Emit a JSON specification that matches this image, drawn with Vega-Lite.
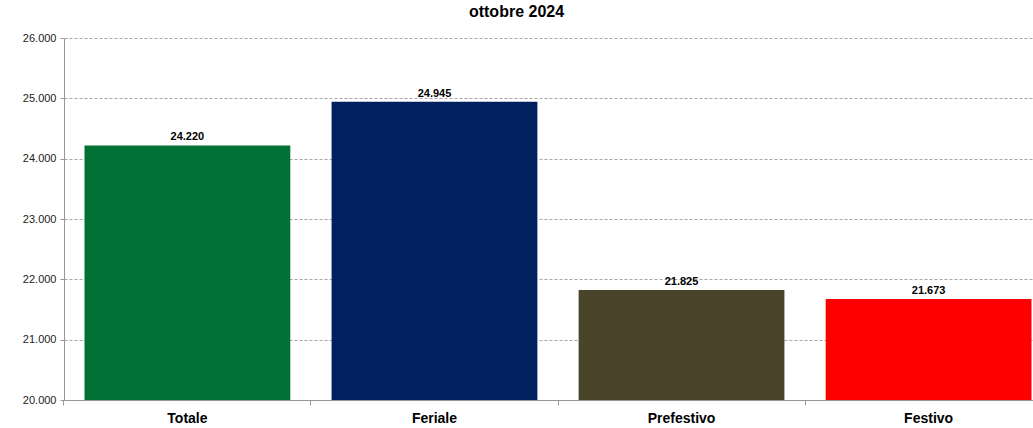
{
  "$schema": "https://vega.github.io/schema/vega-lite/v6.json",
  "autosize": {"type": "none"},
  "width": 969,
  "height": 362,
  "padding": {"left": 64, "top": 38, "right": 0, "bottom": 28},
  "background": "white",
  "config": {
    "locale": {"number": {"decimal": ",", "thousands": ".", "grouping": [3], "currency": ["€", ""]}},
    "view": {"stroke": null},
    "font": "Liberation Sans"
  },
  "title": {
    "text": "ottobre 2024",
    "fontSize": 16,
    "fontWeight": "bold",
    "font": "Liberation Sans",
    "color": "#000000",
    "anchor": "middle",
    "dx": -32,
    "offset": 12
  },
  "data": {
    "values": [
      {"categoria": "Totale", "valore": 24220},
      {"categoria": "Feriale", "valore": 24945},
      {"categoria": "Prefestivo", "valore": 21825},
      {"categoria": "Festivo", "valore": 21673}
    ]
  },
  "encoding": {
    "x": {
      "field": "categoria",
      "type": "nominal",
      "sort": null,
      "scale": {"range": [0, 988], "paddingInner": 0.167, "paddingOuter": 0.083},
      "axis": {
        "title": null,
        "labelAngle": 0,
        "labelFontSize": 14,
        "labelFontWeight": "bold",
        "labelColor": "#000000",
        "labelPadding": 6,
        "domainColor": "#969696",
        "tickColor": "#969696",
        "tickSize": 5,
        "bandPosition": -0.1,
        "grid": false
      }
    },
    "y": {
      "field": "valore",
      "type": "quantitative",
      "scale": {"domain": [20000, 26000], "nice": false, "zero": false},
      "axis": {
        "title": null,
        "values": [20000, 21000, 22000, 23000, 24000, 25000, 26000],
        "format": ",.0f",
        "labelFontSize": 11,
        "labelColor": "#222222",
        "labelPadding": 4,
        "domainColor": "#969696",
        "tickColor": "#969696",
        "tickSize": 4,
        "grid": true,
        "gridColor": "#a6a6a6",
        "gridDash": [3, 2],
        "gridWidth": 1
      }
    }
  },
  "layer": [
    {
      "mark": {"type": "bar", "clip": true},
      "encoding": {
        "color": {
          "field": "categoria",
          "type": "nominal",
          "scale": {
            "domain": ["Totale", "Feriale", "Prefestivo", "Festivo"],
            "range": ["#007035", "#002060", "#4A452A", "#FF0000"]
          },
          "legend": null
        }
      }
    },
    {
      "mark": {"type": "text", "dy": -8, "fontSize": 11, "fontWeight": "bold", "color": "#000000", "font": "Liberation Sans"},
      "encoding": {
        "text": {"field": "valore", "type": "quantitative", "format": ",.0f"}
      }
    }
  ]
}
